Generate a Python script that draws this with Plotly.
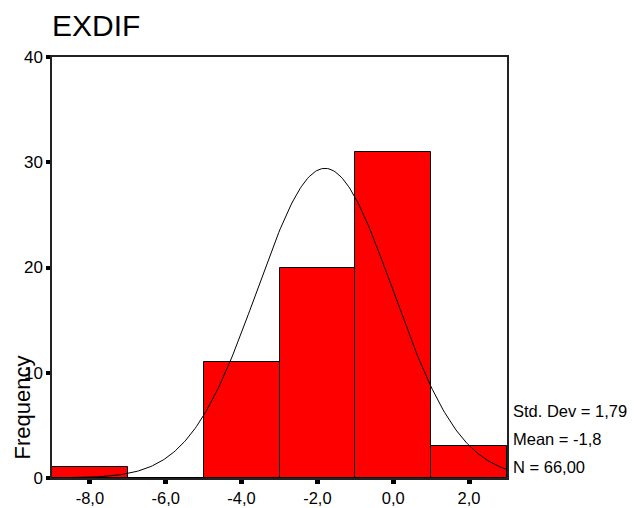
import numpy as np
import plotly.graph_objects as go

# Data
bin_centers = [-8.0, -6.0, -4.0, -2.0, 0.0, 2.0]
frequencies = [1, 0, 11, 20, 31, 3]
bin_width = 2.0
x_tick_vals = [-8, -6, -4, -2, 0, 2]
x_tick_text = ["-8,0", "-6,0", "-4,0", "-2,0", "0,0", "2,0"]
y_tick_vals = [0, 10, 20, 30, 40]
stats_labels = ["Std. Dev = 1,79", "Mean = -1,8", "N = 66,00"]
mean_val = -1.8
sd_val = 1.79
n_val = 66

FONT = "Liberation Sans, Arial, sans-serif"

fig = go.Figure()
fig.add_trace(go.Bar(
    x=bin_centers, y=frequencies, width=bin_width,
    marker=dict(color="#ff0000", line=dict(color="#000000", width=1)),
    showlegend=False, hoverinfo="skip",
))

xs = np.linspace(-9, 3, 300)
ys = n_val * bin_width / (sd_val * np.sqrt(2 * np.pi)) * np.exp(-0.5 * ((xs - mean_val) / sd_val) ** 2)
fig.add_trace(go.Scatter(x=xs, y=ys, mode="lines",
                         line=dict(color="#000000", width=1),
                         showlegend=False, hoverinfo="skip"))

fig.update_layout(
    width=634, height=508,
    margin=dict(l=52, r=127, t=57, b=30, autoexpand=False),
    paper_bgcolor="white", plot_bgcolor="white",
    bargap=0,
    font=dict(family=FONT, size=16.5, color="black"),
    title=dict(text="EXDIF", x=52/634, xanchor="left", y=1-25/508, yanchor="middle",
               font=dict(family=FONT, size=30, color="black")),
)
fig.update_xaxes(range=[-9, 3], tickvals=x_tick_vals, ticktext=x_tick_text,
                 showgrid=False, zeroline=False, automargin=False,
                 showline=True, linecolor="#222222", linewidth=1.5, mirror=True,
                 ticks="outside", ticklen=4, tickwidth=5, tickcolor="black",
                 tickfont=dict(size=16.5))
fig.update_yaxes(range=[0, 40], tickvals=y_tick_vals,
                 showgrid=False, zeroline=False, automargin=False,
                 showline=True, linecolor="#222222", linewidth=1.5, mirror=True,
                 ticks="outside", ticklen=4, tickwidth=4, tickcolor="black",
                 tickfont=dict(size=17))

for lbl, yv in zip(stats_labels, [6.4, 3.75, 1.05]):
    fig.add_annotation(text=lbl, xref="paper", x=1, xshift=4, xanchor="left",
                       yref="y", y=yv, yanchor="middle", showarrow=False,
                       font=dict(family=FONT, size=16.5, color="black"))

fig.add_annotation(text="Frequency", textangle=-90, xref="paper", x=(22-52)/455,
                   yref="y", y=6.7, xanchor="center", yanchor="middle",
                   showarrow=False, font=dict(family=FONT, size=22, color="black"))

fig.write_html("out.html")
